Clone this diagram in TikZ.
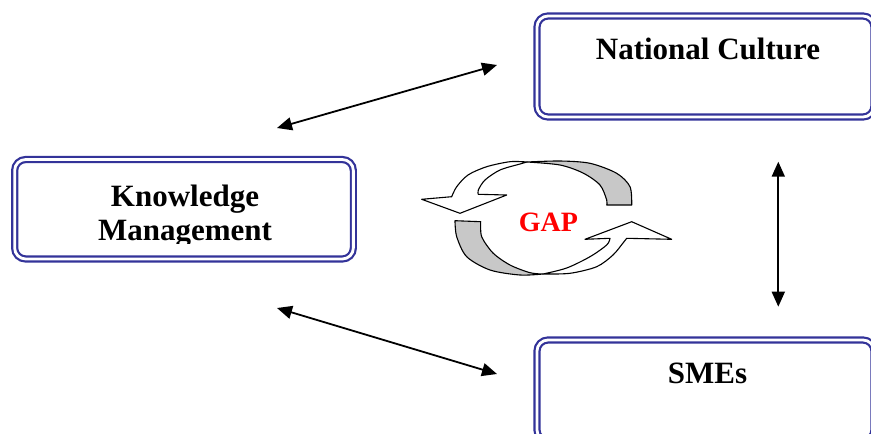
\documentclass[tikz,border=0pt]{standalone}
\usepackage{fontspec}
\setmainfont{Liberation Serif}
\usetikzlibrary{arrows.meta}
\definecolor{boxblue}{RGB}{51,51,153}
\definecolor{ribbongray}{RGB}{200,200,200}

\begin{document}
\begin{tikzpicture}[>={Triangle[length=15pt, width=13pt]}, x=1pt, y=-1pt,
  dbox/.style={draw=boxblue, double=white, double distance=2.8pt, line width=2.2pt, rounded corners=11pt, inner sep=0pt},
  lbl/.style={font=\fontsize{31}{34}\selectfont\bfseries, inner sep=0pt},
  link/.style={<->, line width=1.8pt},
  ribbon/.style={draw=black, line width=1.1pt, line join=round}]
  % 0. Khung hinh (toa do theo pixel, y huong xuong)
  \useasboundingbox (0,0) rectangle (871,434);
  \clip (0,0) rectangle (871,434);

  % 1. Ba khung vien doi
  \node[dbox, minimum width=338.7pt, minimum height=99.5pt] (km) at (184,209.25) {};
  \node[dbox, minimum width=337pt, minimum height=101pt] (nc) at (705.5,66.5) {};
  \node[dbox, minimum width=337pt, minimum height=101pt] (smes) at (705.5,390.5) {};

  % 2. Nhan trong khung
  \node[lbl, anchor=base] (nctext) at ([xshift=2.5pt, yshift=-45pt]nc.north) {National Culture};
  \node[lbl, anchor=base] (smestext) at ([xshift=2pt, yshift=-45pt]smes.north) {SMEs};
  \node[lbl, anchor=base] (kmtop) at ([xshift=1pt, yshift=-48.5pt]km.north) {Knowledge};
  \begin{scope}
    % dong duoi bi cat mat phan chan chu
    \clip (0,0) rectangle (871,243);
    \node[lbl, anchor=base] (kmbot) at ([xshift=1pt, yshift=-82.5pt]km.north) {Management};
  \end{scope}

  % 3. Mui ten hai chieu
  \coordinate (kmup) at (277,128);
  \coordinate (ncleft) at (497,65);
  \coordinate (kmdown) at (277,308);
  \coordinate (smesleft) at (497,374);
  \coordinate (ncdown) at (778.3,161.7);
  \coordinate (smesup) at (778.3,306.7);
  \draw[link] (kmup) -- (ncleft);
  \draw[link] (kmdown) -- (smesleft);
  \draw[link] (ncdown) -- (smesup);

  % 4. Hai mui ten vong quanh GAP
  \filldraw[ribbon, fill=ribbongray]
    plot[smooth] coordinates {(631.7,205) (630,186.7) (616.7,173.3) (590,163.3) (560,161) (527,162)}
    -- plot[smooth] coordinates {(527,162) (560,165) (583,173) (600,185) (606.7,200) (606.7,205)} -- cycle;
  \filldraw[ribbon, fill=white]
    plot[smooth] coordinates {(527,162) (510,161.7) (486.7,166.7) (468,175) (456.7,186.7) (451.7,196.7)}
    -- (421.7,199.3) -- (460,213.3) -- (506.7,195) -- (478.3,194.3)
    -- plot[smooth] coordinates {(478.3,194.3) (478.3,190) (485,180) (500,170) (520,164) (527,162)} -- cycle;
  \filldraw[ribbon, fill=ribbongray]
    plot[smooth] coordinates {(455,220.7) (456.7,236.7) (466.7,256.7) (490,270) (520,275) (543,274)}
    -- plot[smooth] coordinates {(543,274) (530,272.7) (510,265) (493,253) (481.7,236.7) (480.7,221.7)} -- cycle;
  \filldraw[ribbon, fill=white]
    plot[smooth] coordinates {(543,274) (570,273.3) (596.7,266.7) (613,255) (623,243) (626.7,238.3)}
    -- (671.7,239.3) -- (631.7,221.7) -- (585,239.3) -- (610,238.3)
    -- plot[smooth] coordinates {(610,238.3) (606.7,245) (590,256.7) (566.7,268) (543,274)} -- cycle;
  \node[lbl, font=\fontsize{28}{30}\selectfont\bfseries, text=red, anchor=base] (gap) at (548.3,231.7) {GAP};
\end{tikzpicture}
\end{document}
